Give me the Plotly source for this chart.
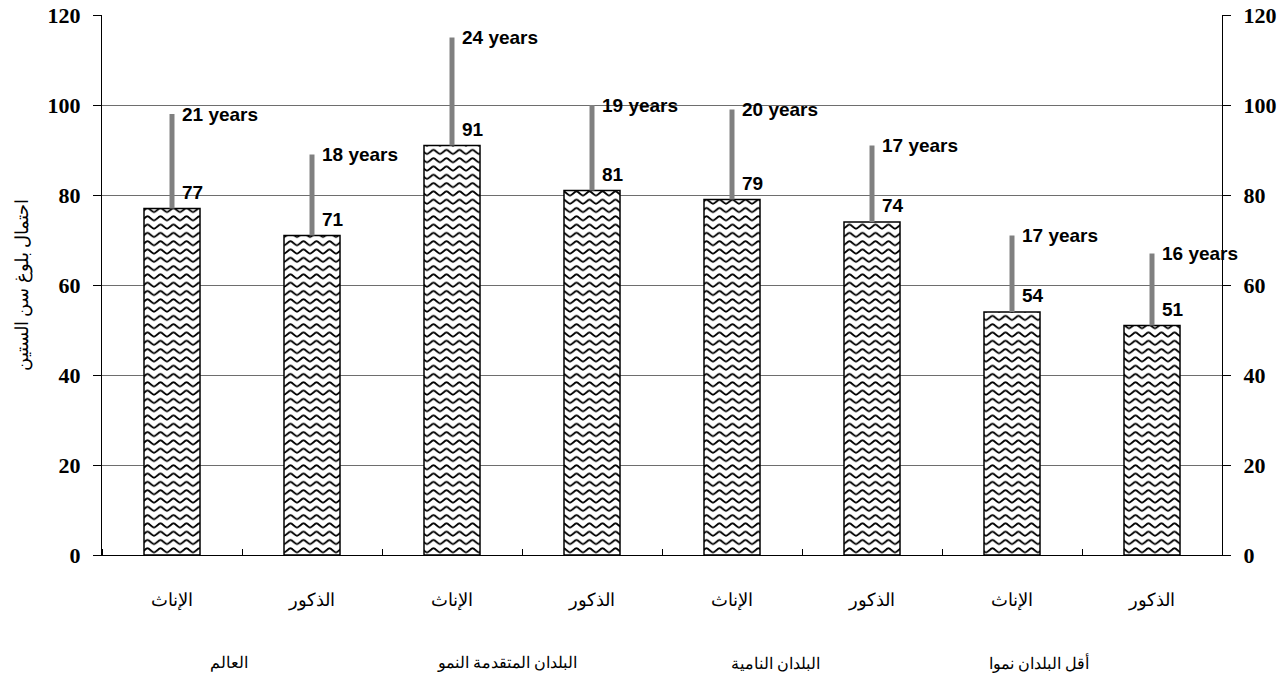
import plotly.graph_objects as go

# Probability of reaching age 60 (%) and remaining life expectancy at 60 (years)
categories = ["الإناث", "الذكور", "الإناث", "الذكور", "الإناث", "الذكور", "الإناث", "الذكور"]
groups = ["العالم", "البلدان المتقدمة النمو", "البلدان النامية", "أقل البلدان نموا"]
probability = [77, 71, 91, 81, 79, 74, 54, 51]
years_at_60 = [21, 18, 24, 19, 20, 17, 17, 16]
y_ticks = [0, 20, 40, 60, 80, 100, 120]
y_title = "احتمال بلوغ سن الستين"

x_pos = list(range(len(categories)))
group_label_x = [0.41, 2.39, 4.31, 6.19]

SERIF = "Times New Roman, Liberation Serif, serif"
SANS = "Arial, Liberation Sans, sans-serif"

fig = go.Figure()

fig.add_trace(go.Bar(
    x=x_pos,
    y=probability,
    width=0.4,
    marker=dict(
        color="white",
        line=dict(color="black", width=1.5),
        pattern=dict(shape="-", fgcolor="black", bgcolor="white",
                     size=10, solidity=0.2, fillmode="replace"),
    ),
    error_y=dict(
        type="data", symmetric=False,
        array=years_at_60, arrayminus=[0] * len(years_at_60),
        color="#808080", thickness=5, width=0,
    ),
    hoverinfo="skip",
    showlegend=False,
))

# empty trace so the mirrored right-hand axis is drawn
fig.add_trace(go.Scatter(x=[None], y=[None], yaxis="y2", showlegend=False,
                         hoverinfo="skip", mode="markers"))

annotations = []
for i, (p, yr) in enumerate(zip(probability, years_at_60)):
    annotations.append(dict(
        x=i, y=p, xref="x", yref="y", text=str(p), showarrow=False,
        xanchor="left", yanchor="bottom", xshift=8, yshift=4,
        font=dict(family=SANS, size=19, color="black", weight="bold"),
    ))
    annotations.append(dict(
        x=i, y=p + yr, xref="x", yref="y", text=f"{yr} years", showarrow=False,
        xanchor="left", yanchor="middle", xshift=8, yshift=0,
        font=dict(family=SANS, size=19, color="black", weight="bold"),
    ))

for gx, g in zip(group_label_x, groups):
    annotations.append(dict(
        x=gx, y=0, xref="x", yref="paper", text=g, showarrow=False,
        xanchor="center", yanchor="middle", yshift=-108,
        font=dict(family=SERIF, size=16, color="black"),
    ))

annotations.append(dict(
    x=0, y=0.5, xref="paper", yref="paper", text=y_title, showarrow=False,
    textangle=-90, xanchor="center", yanchor="middle", xshift=-80,
    font=dict(family=SERIF, size=18, color="black"),
))

yaxis_common = dict(
    range=[0, 120], tickmode="array", tickvals=y_ticks,
    ticks="outside", ticklen=8, tickcolor="black", tickwidth=1,
    showline=True, linecolor="black", linewidth=1,
    tickfont=dict(family=SERIF, size=22, color="black", weight="bold"),
    ticklabelstandoff=8, zeroline=False, fixedrange=True, automargin=False,
)

fig.update_layout(
    width=1288, height=684,
    margin=dict(l=102, r=66, t=15, b=129, autoexpand=False),
    paper_bgcolor="white", plot_bgcolor="white",
    xaxis=dict(
        range=[-0.5, len(categories) - 0.5],
        tickmode="array", tickvals=x_pos, ticktext=categories,
        ticks="", showgrid=False, zeroline=False,
        showline=True, linecolor="black", linewidth=1,
        tickfont=dict(family=SERIF, size=18, color="black"),
        ticklabelstandoff=28, automargin=False,
        minor=dict(tickmode="array",
                   tickvals=[i - 0.5 for i in range(len(categories) + 1)],
                   ticks="inside", ticklen=6, tickcolor="black", tickwidth=1),
        fixedrange=True,
    ),
    yaxis=dict(**yaxis_common, side="left", showgrid=True,
               gridcolor="#6e6e6e", gridwidth=1),
    yaxis2=dict(**yaxis_common, side="right", overlaying="y", anchor="x",
                showgrid=False),
    annotations=annotations,
    showlegend=False,
)

# turn the striped bar fill into a wavy hatch
wave_js = """
var gd = document.getElementById('{plot_id}');
function waveFill(){
  gd.querySelectorAll('pattern').forEach(function(p){
    var w = 13, h = 8.3;
    p.setAttribute('width', w); p.setAttribute('height', h);
    p.querySelectorAll('rect').forEach(function(r){
      r.setAttribute('width', w); r.setAttribute('height', h);
    });
    p.querySelectorAll('path').forEach(function(pa){
      pa.setAttribute('d', 'M0,6.2 C2,6.2 4.5,2.1 6.5,2.1 C8.5,2.1 11,6.2 13,6.2');
      pa.setAttribute('fill', 'none');
      pa.setAttribute('stroke-width', '1.9px');
      pa.setAttribute('opacity', '1');
    });
  });
}
waveFill();
gd.on('plotly_afterplot', waveFill);
"""

fig.write_html("out.html", post_script=wave_js)
